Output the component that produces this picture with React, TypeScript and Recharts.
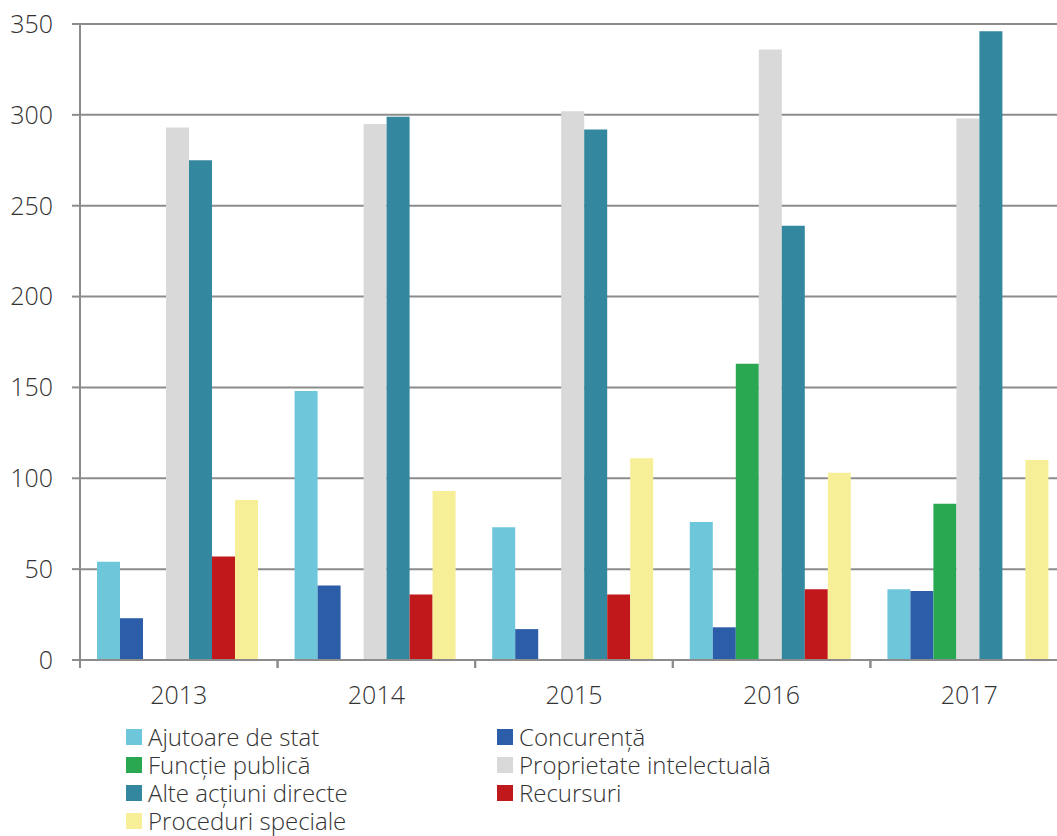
import React from "react";
import { BarChart, Bar, XAxis, YAxis, CartesianGrid } from "recharts";

const years = ["2013", "2014", "2015", "2016", "2017"];
const ajutoare = [54, 148, 73, 76, 39];
const concurenta = [23, 41, 17, 18, 38];
const functie = [0, 0, 0, 163, 86];
const proprietate = [293, 295, 302, 336, 298];
const alte = [275, 299, 292, 239, 346];
const recursuri = [57, 36, 36, 39, 0];
const proceduri = [88, 93, 111, 103, 110];
const yTicks = [0, 50, 100, 150, 200, 250, 300, 350];

const series = [
  { key: "ajutoare", name: "Ajutoare de stat", color: "#6ec6da", values: ajutoare },
  { key: "concurenta", name: "Concurență", color: "#2c5da8", values: concurenta },
  { key: "functie", name: "Funcție publică", color: "#29a851", values: functie },
  { key: "proprietate", name: "Proprietate intelectuală", color: "#d9d9d9", values: proprietate },
  { key: "alte", name: "Alte acțiuni directe", color: "#33879e", values: alte },
  { key: "recursuri", name: "Recursuri", color: "#c0181b", values: recursuri },
  { key: "proceduri", name: "Proceduri speciale", color: "#f7ef98", values: proceduri },
];

const data = years.map((year, i) => {
  const row: Record<string, string | number> = { year };
  series.forEach((s) => {
    row[s.key] = s.values[i];
  });
  return row;
});

const FONT = "'Open Sans', 'Noto Sans', sans-serif";
const TEXT = "#333333";
const GRID = "#8c8c8c";

function YearTick(props: any) {
  const { x, y, payload } = props;
  const half = payload && payload.offset ? payload.offset : 0;
  return (
    <g>
      <line x1={x - half} x2={x - half} y1={y - 8} y2={y} stroke={GRID} strokeWidth={2} />
      <line x1={x + half} x2={x + half} y1={y - 8} y2={y} stroke={GRID} strokeWidth={2} />
      <text
        x={x}
        y={y + 36}
        textAnchor="middle"
        fontFamily={FONT}
        fontWeight={300}
        fontSize={25}
        fill={TEXT}
      >
        {payload.value}
      </text>
    </g>
  );
}

// two-column legend, order as in the original
const legendRows = [
  [series[0], series[1]],
  [series[2], series[3]],
  [series[4], series[5]],
  [series[6]],
];

export default function App() {
  return (
    <div
      style={{
        position: "absolute",
        left: 0,
        top: 0,
        width: 1057,
        height: 836,
        overflow: "hidden",
        background: "#fff",
      }}
    >
      <BarChart
        width={1068}
        height={740}
        data={data}
        margin={{ top: 24, right: 0, bottom: 0, left: 0 }}
        barGap={0}
        barCategoryGap={17}
      >
        <CartesianGrid vertical={false} stroke={GRID} strokeWidth={2} />
        <XAxis
          dataKey="year"
          height={80}
          axisLine={{ stroke: GRID, strokeWidth: 2 }}
          tickLine={false}
          tick={<YearTick />}
          interval={0}
        />
        <YAxis
          width={80}
          domain={[0, 350]}
          ticks={yTicks}
          interval={0}
          axisLine={{ stroke: GRID, strokeWidth: 2 }}
          tickLine={{ stroke: GRID, strokeWidth: 2 }}
          tickSize={8}
          tickMargin={19}
          tick={{ fontFamily: FONT, fontWeight: 300, fontSize: 25, fill: TEXT }}
        />
        {series.map((s) => (
          <Bar key={s.key} dataKey={s.key} name={s.name} fill={s.color} isAnimationActive={false} />
        ))}
      </BarChart>
      <div
        style={{
          position: "absolute",
          left: 126,
          top: 723,
          fontFamily: FONT,
          fontWeight: 300,
          fontSize: 24,
          color: TEXT,
          lineHeight: "28px",
        }}
      >
        {legendRows.map((row, ri) => (
          <div key={ri} style={{ display: "flex", height: 28 }}>
            {row.map((s) => (
              <div key={s.key} style={{ display: "flex", alignItems: "center", width: 371 }}>
                <span
                  style={{
                    display: "inline-block",
                    width: 16,
                    height: 16,
                    background: s.color,
                    marginRight: 6,
                  }}
                />
                <span
                  style={{
                    display: "inline-block",
                    height: 28,
                    lineHeight: "28px",
                    whiteSpace: "nowrap",
                  }}
                >
                  {s.name}
                </span>
              </div>
            ))}
          </div>
        ))}
      </div>
    </div>
  );
}
